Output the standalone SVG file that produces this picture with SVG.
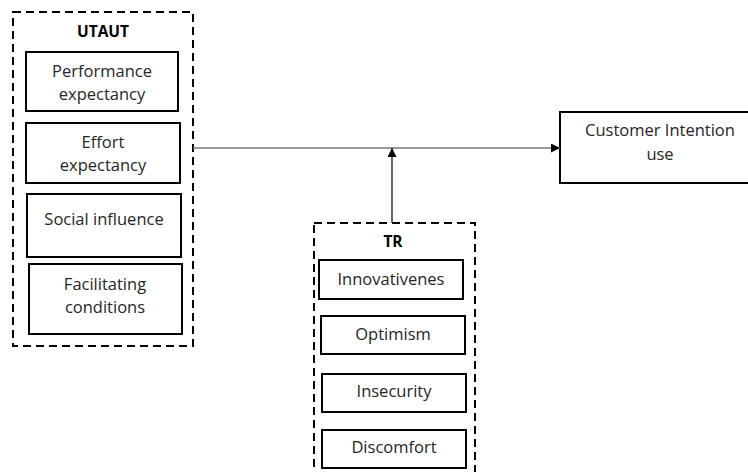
<svg xmlns="http://www.w3.org/2000/svg" width="748" height="472" viewBox="0 0 748 472">
<defs>
<style>
.grp{fill:none;stroke:#000;stroke-width:2;stroke-dasharray:8,5}
.box{fill:#fff;stroke:#000;stroke-width:2}
.t{font-family:"Open Sans","Liberation Sans",sans-serif;font-size:16.5px;fill:#262626;text-anchor:middle}
.h{font-family:"Open Sans","Liberation Sans",sans-serif;font-size:15.5px;font-weight:bold;fill:#000;text-anchor:middle}
</style>
<marker id="ah" viewBox="0 0 10 10" refX="10" refY="5" markerWidth="9" markerHeight="9" markerUnits="userSpaceOnUse" orient="auto">
<path d="M0,0 L10,5 L0,10 z" fill="#000"/>
</marker>
</defs>
<g id="utaut">
<rect class="grp" x="13" y="12" width="180" height="334"/>
<text class="h" x="103" y="37">UTAUT</text>
</g>
<g id="performance">
<rect class="box" x="26" y="52" width="152" height="59"/>
<text class="t" x="102" y="77">Performance</text>
<text class="t" x="102" y="100">expectancy</text>
</g>
<g id="effort">
<rect class="box" x="26" y="123" width="154" height="60"/>
<text class="t" x="103" y="148">Effort</text>
<text class="t" x="103" y="171">expectancy</text>
</g>
<g id="social">
<rect class="box" x="27" y="194" width="154" height="63"/>
<text class="t" x="104" y="225">Social influence</text>
</g>
<g id="facilitating">
<rect class="box" x="29" y="264" width="153" height="70"/>
<text class="t" x="105" y="290">Facilitating</text>
<text class="t" x="105" y="313">conditions</text>
</g>
<g id="customer">
<rect class="box" x="560" y="112" width="190" height="71"/>
<text class="t" x="660" y="136">Customer Intention</text>
<text class="t" x="660" y="160">use</text>
</g>
<g id="tr">
<rect class="grp" x="314" y="223" width="161" height="260"/>
<text class="h" x="393" y="247">TR</text>
</g>
<g id="innovativenes">
<rect class="box" x="319" y="260" width="144" height="39"/>
<text class="t" x="391" y="285">Innovativenes</text>
</g>
<g id="optimism">
<rect class="box" x="321" y="316" width="144" height="38"/>
<text class="t" x="393" y="340">Optimism</text>
</g>
<g id="insecurity">
<rect class="box" x="322" y="374" width="144" height="38"/>
<text class="t" x="394" y="397">Insecurity</text>
</g>
<g id="discomfort">
<rect class="box" x="322" y="430" width="144" height="38"/>
<text class="t" x="394" y="453">Discomfort</text>
</g>
<g id="connectors">
<line x1="193" y1="148" x2="560" y2="148" stroke="#777" stroke-width="1.5" marker-end="url(#ah)"/>
<line x1="392" y1="223" x2="392" y2="148" stroke="#000" stroke-width="1.2" marker-end="url(#ah)"/>
</g>
</svg>
